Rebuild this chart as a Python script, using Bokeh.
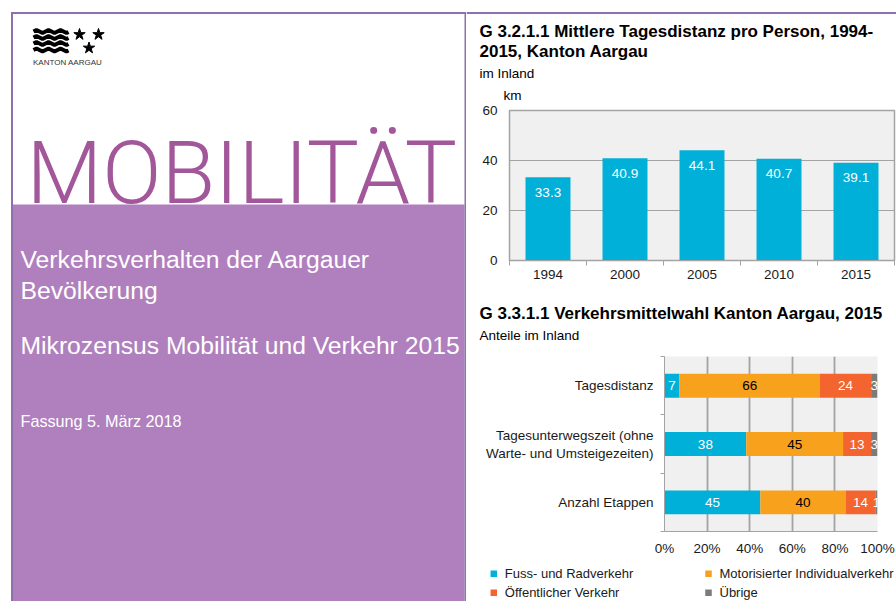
from bokeh.plotting import figure
from bokeh.layouts import row, column
from bokeh.models import Range1d, FixedTicker, PrintfTickFormatter, ColumnDataSource
from bokeh.core.properties import value
from bokeh.embed import file_html
from bokeh.resources import INLINE

# ---------------- data ----------------
years = ["1994", "2000", "2005", "2010", "2015"]
distance_km = [33.3, 40.9, 44.1, 40.7, 39.1]
distance_ticks = [0, 20, 40, 60]

measures = ["Tagesdistanz",
            "Tagesunterwegszeit (ohne\nWarte- und Umsteigezeiten)",
            "Anzahl Etappen"]
modes = ["Fuss- und Radverkehr", "Motorisierter Individualverkehr",
         "Öffentlicher Verkehr", "Übrige"]
share_fuss = [7, 38, 45]
share_miv = [66, 45, 40]
share_oev = [24, 13, 14]
share_uebrige = [3, 3, 1]
share_ticks = [0, 20, 40, 60, 80, 100]

# ---------------- styles ----------------
FONT = "Liberation Sans"
TXT = "#1a1a1a"
CYAN = "#00b0d9"
ORANGE = "#f8a11c"
RED = "#f4642f"
GREY = "#7b7b7b"
LINE = "#8d70ae"
LILAC = "#b07fbe"
MAGENTA = "#a3579b"
AXIS = "#a3a3a3"
PANEL = "#f0f0f0"


def deco_fig(w, h, x0, x1, y0, y1):
    """Figure whose data coordinates equal page pixels (y downwards)."""
    f = figure(width=w, height=h, x_range=Range1d(x0, x1), y_range=Range1d(y1, y0),
               x_axis_location=None, y_axis_location=None, toolbar_location=None,
               output_backend="svg", min_border=0, title=None, frame_align=False)
    f.grid.visible = False
    f.outline_line_color = None
    return f


def txt(f, x, y, text, size="13.5px", bold=False, color="black"):
    f.text(x=[x], y=[y], text=[text], text_font=value(FONT), text_font_size=size,
           text_font_style="bold" if bold else "normal", text_baseline="middle",
           text_align="left", text_color=color)


# ---------------- cover panel ----------------
cover = deco_fig(466, 601, 0, 466, 0, 601)
cover.quad(left=12.5, right=464, top=204, bottom=601, fill_color=LILAC, line_color=None)
cover.quad(left=[10.5, 464, 10.5], right=[12.5, 466, 466], top=[11.5, 11.5, 11.5],
           bottom=[601, 601, 13.5], fill_color=LINE, line_color=None)

wave_dx = [0, 3, 6, 9, 12, 15, 18, 21, 24, 27, 30, 33, 35]
wave_dy = [0, -1.5, 0, 1.5, 0, -1.5, 0, 1.5, 0, -1.5, 0, 1.5, 0.5]
wave_c = [31, 37, 43, 49.5]
cover.multi_line(xs=[[33 + d for d in wave_dx] for _ in wave_c],
                 ys=[[c + d for d in wave_dy] for c in wave_c],
                 line_width=4, line_color="black")
cover.scatter(x=[79, 98, 88.5], y=[34, 34, 47.5], marker="star", size=12,
              fill_color="black", line_color="black")
txt(cover, 32.5, 62, "KANTON AARGAU", "8px", color="#333333")

cover.text(x=[26], y=[172], text=["MOBILITÄT"], text_font=value("Roboto Light"),
           text_font_size="87.5px", text_baseline="middle", text_color=MAGENTA)

cover.text(x=[20, 20, 20], y=[259, 290, 345],
           text=["Verkehrsverhalten der Aargauer", "Bevölkerung",
                 "Mikrozensus Mobilität und Verkehr 2015"],
           text_font=value(FONT), text_font_size="24.7px", text_baseline="middle",
           text_color="white")
cover.text(x=[20], y=[420], text=["Fassung 5. März 2018"], text_font=value(FONT),
           text_font_size="16.2px", text_baseline="middle", text_color="white")

# ---------------- chart 1 header ----------------
head1 = deco_fig(430, 103, 466, 896, 0, 103)
head1.quad(left=466, right=896, top=11.5, bottom=13.5, fill_color=LINE, line_color=None)
txt(head1, 479, 31, "G 3.2.1.1 Mittlere Tagesdistanz pro Person, 1994-", "17px", True)
txt(head1, 479, 50.5, "2015, Kanton Aargau", "17px", True)
txt(head1, 479, 72.5, "im Inland")
txt(head1, 503, 95, "km")

# ---------------- chart 1: Tagesdistanz ----------------
p1 = figure(width=430, height=188, x_range=Range1d(0, len(years)), y_range=Range1d(0, 60),
            min_border_left=43, min_border_right=2, min_border_top=7, min_border_bottom=31,
            toolbar_location=None, output_backend="svg", title=None, frame_align=False,
            background_fill_color=PANEL, outline_line_color=AXIS, outline_line_width=1.5)
xpos = [i + 0.5 for i in range(len(years))]
src1 = ColumnDataSource(dict(x=xpos, top=distance_km, label=[f"{v:.1f}" for v in distance_km]))
p1.vbar(x="x", top="top", bottom=0, width=0.584, source=src1, fill_color=CYAN, line_color=None)
p1.text(x="x", y="top", text="label", source=src1, y_offset=15, text_align="center",
        text_baseline="middle", text_color="white", text_font=value(FONT), text_font_size="13.5px")

p1.xaxis.ticker = FixedTicker(ticks=xpos, minor_ticks=list(range(len(years) + 1)))
p1.xaxis.major_label_overrides = {x: y for x, y in zip(xpos, years)}
p1.xaxis.major_tick_out = 0
p1.xaxis.major_tick_in = 0
p1.xaxis.minor_tick_out = 5
p1.xaxis.minor_tick_in = 0
p1.xaxis.minor_tick_line_color = AXIS
p1.xaxis.axis_line_color = AXIS
p1.xaxis.major_label_standoff = 4
p1.xgrid.visible = False
p1.yaxis.ticker = FixedTicker(ticks=distance_ticks)
p1.yaxis.axis_line_color = None
p1.yaxis.major_tick_line_color = None
p1.yaxis.minor_tick_line_color = None
p1.yaxis.major_tick_out = 0
p1.yaxis.major_label_standoff = 12
p1.ygrid.grid_line_color = AXIS
p1.ygrid.grid_line_width = 1.2
for ax in (p1.xaxis, p1.yaxis):
    ax.major_label_text_font = FONT
    ax.major_label_text_font_size = "13.5px"
    ax.major_label_text_color = TXT

# ---------------- divider ----------------
div = deco_fig(430, 2, 466, 896, 291, 293)
div.quad(left=466, right=896, top=291, bottom=293, fill_color=LINE, line_color=None)

# ---------------- chart 2 header ----------------
head2 = deco_fig(430, 56, 466, 896, 293, 349)
txt(head2, 479, 313, "G 3.3.1.1 Verkehrsmittelwahl Kanton Aargau, 2015", "17px", True)
txt(head2, 479, 335, "Anteile im Inland")

# ---------------- chart 2: Verkehrsmittelwahl ----------------
p2 = figure(width=430, height=211, x_range=Range1d(0, 100), y_range=Range1d(0, len(measures)),
            min_border_left=198, min_border_right=19, min_border_top=7, min_border_bottom=29,
            toolbar_location=None, output_backend="svg", title=None, frame_align=False,
            background_fill_color=PANEL, outline_line_color=None)
ypos = [len(measures) - i - 0.5 for i in range(len(measures))]
series = [share_fuss, share_miv, share_oev, share_uebrige]
colors = [CYAN, ORANGE, RED, GREY]
label_colors = ["white", "black", "white", "white"]
totals = [sum(s[i] for s in series) for i in range(len(measures))]
cum = [0.0] * len(measures)
for vals, col, lc in zip(series, colors, label_colors):
    left = list(cum)
    right = [cum[i] + vals[i] / totals[i] * 100 for i in range(len(measures))]
    cum = right
    s = ColumnDataSource(dict(y=ypos, left=left, right=right,
                              mid=[(a + b) / 2 for a, b in zip(left, right)],
                              label=[str(v) for v in vals]))
    p2.hbar(y="y", left="left", right="right", height=0.41, source=s,
            fill_color=col, line_color=None)
    p2.text(x="mid", y="y", text="label", source=s, text_align="center",
            text_baseline="middle", text_color=lc, text_font=value(FONT),
            text_font_size="13.5px")

p2.xaxis.ticker = FixedTicker(ticks=share_ticks)
p2.xaxis.formatter = PrintfTickFormatter(format="%d%%")
p2.xaxis.major_tick_out = 0
p2.xaxis.major_tick_in = 0
p2.xaxis.minor_tick_line_color = None
p2.xaxis.axis_line_color = AXIS
p2.xaxis.major_label_standoff = 9
p2.xgrid.grid_line_color = AXIS
p2.xgrid.grid_line_width = 1.8
p2.ygrid.visible = False
p2.yaxis.ticker = FixedTicker(ticks=ypos, minor_ticks=list(range(len(measures) + 1)))
p2.yaxis.major_label_overrides = {y: m for y, m in zip(ypos, measures)}
p2.yaxis.major_tick_out = 0
p2.yaxis.major_tick_in = 0
p2.yaxis.minor_tick_out = 4
p2.yaxis.minor_tick_in = 0
p2.yaxis.minor_tick_line_color = AXIS
p2.yaxis.axis_line_color = AXIS
p2.yaxis.major_label_standoff = 7
for ax in (p2.xaxis, p2.yaxis):
    ax.major_label_text_font = FONT
    ax.major_label_text_font_size = "13.5px"
    ax.major_label_text_color = TXT

# ---------------- legend ----------------
legfig = deco_fig(430, 41, 466, 896, 560, 601)
leg_x = [493.3, 708, 493.3, 708]
leg_y = [573.3, 573.3, 592.3, 592.3]
legfig.scatter(x=leg_x, y=leg_y, marker="square", size=6.5, fill_color=colors,
               line_color=None)
legfig.text(x=[x + 11 for x in leg_x], y=leg_y, text=modes, text_font=value(FONT),
            text_font_size="13px", text_baseline="middle", text_color=TXT)

layout = row(cover, column(head1, p1, div, head2, p2, legfig))
open("out.html", "w").write(file_html(layout, INLINE))
